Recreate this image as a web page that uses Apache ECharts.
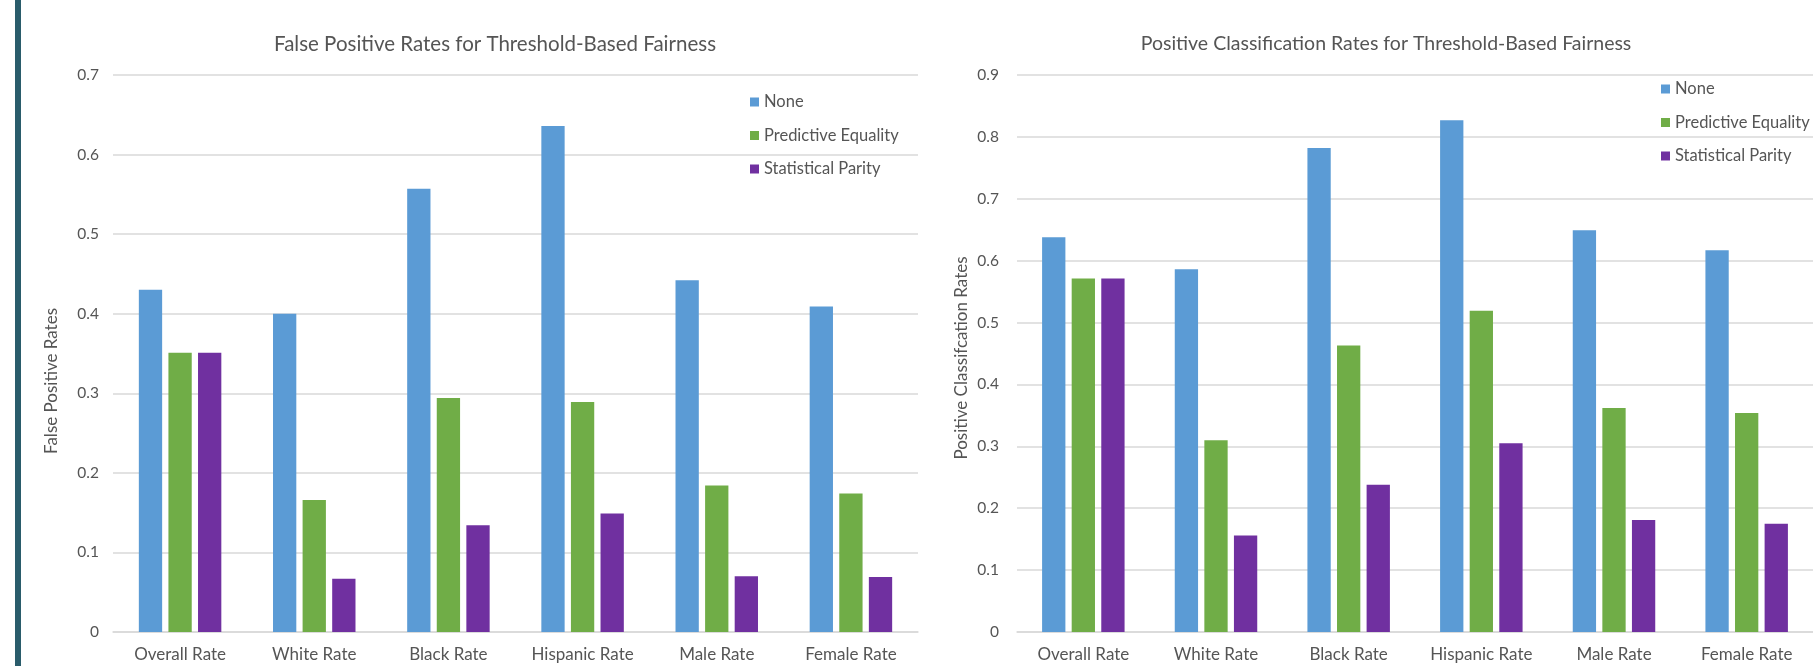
<!DOCTYPE html>
<html>
<head>
<meta charset="utf-8">
<script src="https://cdn.jsdelivr.net/npm/echarts@6/dist/echarts.min.js"></script>
<style>
  html, body { margin: 0; padding: 0; background: #ffffff; }
  #chart { width: 1813px; height: 666px; }
</style>
</head>
<body>
<div id="chart"></div>
<script>
// Groups along the x axis (shared by both panels)
const categories = ['Overall Rate', 'White Rate', 'Black Rate', 'Hispanic Rate', 'Male Rate', 'Female Rate'];
const seriesNames = ['None', 'Predictive Equality', 'Statistical Parity'];

// False positive rates
const fprNone = [0.430, 0.400, 0.557, 0.636, 0.442, 0.409];
const fprPredictiveEquality = [0.351, 0.166, 0.294, 0.289, 0.184, 0.174];
const fprStatisticalParity = [0.351, 0.067, 0.134, 0.149, 0.070, 0.069];

// Positive classification rates
const pcrNone = [0.638, 0.586, 0.782, 0.827, 0.649, 0.617];
const pcrPredictiveEquality = [0.571, 0.310, 0.463, 0.519, 0.362, 0.354];
const pcrStatisticalParity = [0.571, 0.156, 0.238, 0.305, 0.181, 0.175];

// Value axis tick settings
const fprAxisMax = 0.7;
const pcrAxisMax = 0.9;
const axisStep = 0.1;

const FONT = 'Lato, "Open Sans", sans-serif';
const TEXT = '#555555';
const GRID_LINE = '#d9d9d9';
const COLORS = ['#5b9bd5', '#70ad47', '#7030a0'];

const chart = echarts.init(document.getElementById('chart'));

function xAxisFor(gridIndex) {
  return {
    type: 'category',
    gridIndex,
    data: categories,
    axisLine: { show: true, lineStyle: { color: GRID_LINE, width: 1.5 } },
    axisTick: { show: false },
    axisLabel: { color: TEXT, fontFamily: FONT, fontSize: 17, margin: 14, interval: 0 }
  };
}

function yAxisFor(gridIndex, max, margin) {
  return {
    type: 'value',
    gridIndex,
    min: 0,
    max,
    interval: axisStep,
    axisLine: { show: false },
    axisTick: { show: false },
    splitLine: { lineStyle: { color: GRID_LINE, width: 1.5 } },
    axisLabel: {
      color: TEXT, fontFamily: FONT, fontSize: 15.5, margin,
      formatter: v => (Math.round(v * 10) / 10).toString()
    }
  };
}

function barSeries(name, data, idx, gridIndex) {
  return {
    name,
    type: 'bar',
    xAxisIndex: gridIndex,
    yAxisIndex: gridIndex,
    data,
    barWidth: 23.3,
    barGap: '27%',
    itemStyle: { color: COLORS[idx] },
    emphasis: { disabled: true }
  };
}

function legendAt(left, top) {
  return {
    orient: 'vertical',
    left, top,
    data: seriesNames,
    icon: 'rect',
    itemWidth: 9,
    itemHeight: 9,
    itemGap: 15.5,
    textStyle: { color: TEXT, fontFamily: FONT, fontSize: 16.5, lineHeight: 18 },
    selectedMode: false
  };
}

function centeredText(x, y, text, size, rotation) {
  return {
    type: 'text',
    x, y,
    rotation: rotation || 0,
    style: {
      text,
      fill: TEXT,
      fontFamily: FONT,
      fontSize: size,
      align: 'center',
      verticalAlign: 'middle'
    }
  };
}

chart.setOption({
  animation: false,
  backgroundColor: '#ffffff',
  grid: [
    { left: 113, top: 75, width: 805, height: 557 },
    { left: 1017, top: 75, width: 807, height: 557 }
  ],
  xAxis: [xAxisFor(0), xAxisFor(1)],
  yAxis: [yAxisFor(0, fprAxisMax, 14), yAxisFor(1, pcrAxisMax, 18)],
  legend: [legendAt(745, 88), legendAt(1656, 75)],
  series: [
    barSeries('None', fprNone, 0, 0),
    barSeries('Predictive Equality', fprPredictiveEquality, 1, 0),
    barSeries('Statistical Parity', fprStatisticalParity, 2, 0),
    barSeries('None', pcrNone, 0, 1),
    barSeries('Predictive Equality', pcrPredictiveEquality, 1, 1),
    barSeries('Statistical Parity', pcrStatisticalParity, 2, 1)
  ],
  graphic: [
    // dark rule down the left margin
    { type: 'rect', shape: { x: 15, y: 0, width: 6, height: 666 }, style: { fill: '#2a5c6b' } },
    centeredText(495, 44, 'False Positive Rates for Threshold-Based Fairness', 20.5),
    centeredText(1386, 44, 'Positive Classification Rates for Threshold-Based Fairness', 19.5),
    centeredText(52, 381, 'False Positive Rates', 17, Math.PI / 2),
    centeredText(962, 358, 'Positive Classifcation Rates', 17, Math.PI / 2)
  ]
});
</script>
</body>
</html>
